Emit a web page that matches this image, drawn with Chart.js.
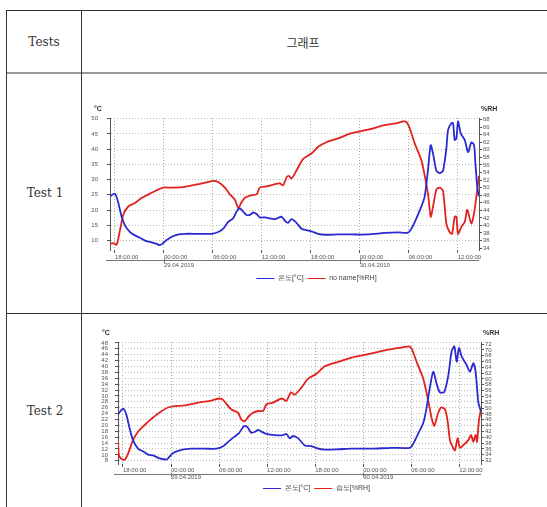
<!DOCTYPE html>
<html>
<head>
<meta charset="utf-8">
<script src="https://cdn.jsdelivr.net/npm/chart.js@4.4.1/dist/chart.umd.min.js"></script>
<style>
  body { margin: 0; width: 547px; height: 507px; background: #fff; overflow: hidden; position: relative; }
  .rule { position: absolute; background: #333; }
  .cell { position: absolute; font-family: 'DejaVu Serif', serif; font-size: 12px; color: #333;
          transform: translate(-50%, -50%); white-space: nowrap; }
  .box { position: absolute; }
</style>
</head>
<body>
<div class="rule" style="left:6px;top:10px;width:541px;height:1px"></div>
<div class="rule" style="left:6px;top:72px;width:541px;height:2px;background:#999"></div>
<div class="rule" style="left:6px;top:313px;width:541px;height:1px"></div>
<div class="rule" style="left:6px;top:10px;width:1px;height:497px"></div>
<div class="rule" style="left:81px;top:10px;width:1px;height:497px"></div>
<div class="cell" style="left:44px;top:42px">Tests</div>
<div class="cell" style="left:303px;top:42px;font-family:'Noto Sans CJK KR'">그래프</div>
<div class="cell" style="left:45px;top:193px">Test 1</div>
<div class="cell" style="left:45px;top:411px">Test 2</div>
<div class="box" style="left:86px;top:95px;width:461px;height:205px"><canvas id="c1"></canvas></div>
<div class="box" style="left:86px;top:325px;width:461px;height:182px"><canvas id="c2"></canvas></div>
<script>
// hours counted from 28.04.2019 00:00
const timeTicks = [18, 24, 30, 36, 42, 48, 54, 60];
const dayLabels = { 24: '29.04.2019', 48: '30.04.2019' };
const tempLabel = '온도[°C]';
const rhLabel1 = 'no name[%RH]';
const rhLabel2 = '습도[%RH]';

// Test 1
const t1TempHours = [17.39,18.00,18.41,18.82,19.22,19.84,20.45,21.06,21.67,22.49,23.10,23.51,23.80,24.33,25.35,26.57,28.20,29.84,30.65,31.27,31.88,32.49,32.90,33.31,33.71,34.12,34.53,34.94,35.35,35.76,36.37,36.98,37.59,38.41,38.82,39.22,39.63,40.24,40.86,41.47,42.08,42.90,43.71,45.35,46.98,49.02,51.06,52.69,53.92,54.33,54.94,55.55,55.96,56.37,56.69,56.98,57.39,57.80,58.20,58.61,58.82,59.22,59.43,59.63,59.84,60.04,60.37,60.86,61.27,61.67,62.00,62.16,62.41,62.61];
const t1Temp = [24.5,25.4,22.3,17.8,15,12.8,11.7,10.9,10,9.4,8.9,8.5,8.9,10.2,11.7,12.2,12.2,12.2,12.8,13.9,16.1,17.3,19.5,20.6,19.5,18.4,18.4,19.2,18.7,17.6,17.6,17.3,17,17.8,16.5,15.8,17,15.8,13.9,13.4,13,12.2,11.9,12,12,12,12.5,12.7,12.6,13.9,17.3,21.2,24.5,33.5,41.3,38.5,32.9,32.1,32.9,40.2,46.3,48.5,48.5,43,43.5,49.1,45.2,43,39,42.2,41.3,35.7,27.3,24.5];
const t1RhHours = [17.39,17.80,18.20,18.61,19.02,19.63,20.45,21.27,21.67,22.29,23.10,23.92,24.94,26.57,28.20,29.43,30.04,30.65,31.47,32.08,32.69,33.10,33.51,33.92,34.53,35.35,35.76,36.57,37.59,38.20,38.61,39.02,39.31,39.63,40.24,41.06,42.08,42.90,43.92,45.35,46.98,49.02,51.06,52.69,53.31,53.71,54.12,54.73,55.55,55.96,56.37,56.69,56.98,57.39,57.80,58.20,58.61,59.02,59.31,59.63,59.84,60.04,60.45,60.86,61.18,61.67,62.00,62.29,62.61];
const t1Rh = [35.1,35.3,34.9,38.7,42.8,45,45.9,47.3,47.7,48.4,49.3,50,50,50.2,50.9,51.5,51.8,51.5,50,48.2,46.8,44.6,46.1,47.3,47.9,48.2,50,50.3,50.9,51.1,50.6,52.7,53.1,52.4,54.5,57.6,59,60.8,62,63,64.4,65.3,66.5,67.1,67.5,67.4,65.7,61.7,57.2,53.1,48.2,42.3,45,49.5,50,49.1,40.5,38.2,37.8,42.3,42.3,37.8,39.6,40.9,44.1,40.5,43.2,47.7,53.1];

// Test 2
const t2TempHours = [17.38,17.79,18.08,18.42,18.83,19.25,19.88,20.50,21.13,21.75,22.58,23.42,23.63,24.25,25.29,26.54,28.21,29.67,30.50,31.13,31.88,32.46,33.13,33.54,34.04,34.54,34.88,35.29,35.92,36.96,38.00,38.42,38.83,39.25,39.88,40.71,41.54,42.38,43.21,44.88,46.54,49.04,51.54,53.83,54.25,54.88,55.50,55.92,56.33,56.75,57.17,57.58,58.13,58.63,59.04,59.38,59.67,59.96,60.29,60.92,61.33,61.75,62.04,62.38,62.71];
const t2Temp = [23.7,25.2,25.6,23.7,19,15,12.1,11.2,10.1,9.8,8.8,8.4,8.8,10.6,11.7,12.1,12.1,12.1,12.9,14.4,16.1,17.3,19.8,19.4,17.5,17.9,18.5,17.9,17.1,16.7,16.7,17.1,15.6,16.4,15.6,13.2,13,12.1,11.8,11.9,12.1,12.1,12.4,12.4,13.8,17.3,20.8,26,32.9,38.2,34.1,31.2,31.4,37,45.1,46.8,41.6,46.3,43.4,40.5,38.2,41.1,38.2,27.7,24.8];
const t2RhHours = [17.38,17.50,17.79,18.21,18.63,19.25,19.88,20.71,21.33,21.96,22.79,23.63,24.46,25.71,27.38,29.04,30.08,30.50,31.54,32.38,32.79,33.21,33.71,34.25,34.88,35.50,35.92,36.75,37.79,38.42,38.96,39.46,40.29,41.13,42.17,43.21,44.88,46.54,48.63,50.71,52.79,53.71,54.04,54.67,55.50,56.13,56.54,56.88,57.29,57.71,58.21,58.54,58.83,59.17,59.46,59.79,60.08,60.50,61.13,61.46,61.75,62.04,62.21,62.46,62.71];
const t2Rh = [38.4,33.8,32.6,32.3,34.3,39,41.9,44.2,45.8,47.2,48.9,50.2,50.7,50.9,51.9,52.6,53.3,52.8,49.5,48.4,46,45.5,47.2,48.4,49,49,51.3,51.9,53.3,52.5,55.4,54.6,57.1,60.1,61.8,64.4,65.9,67.3,68.5,69.8,70.8,71.2,70.4,65.9,60.1,52.5,46.6,43.9,47.8,50.2,49.6,45.5,39,36.7,35.5,39.6,36.4,37.3,39,40.8,38.4,40.8,38.4,46,49.6];

Chart.defaults.font.family = "'Liberation Sans', sans-serif";
Chart.defaults.color = '#555';

const toPoints = (xs, ys) => xs.map((x, i) => ({ x: x, y: ys[i] }));

function timeLabel(h) {
  const hh = String(h % 24).padStart(2, '0') + ':00:00';
  return dayLabels[h] ? [hh, dayLabels[h]] : hh;
}

const axisExtras = {
  id: 'axisExtras',
  afterDraw(chart) {
    const { ctx, chartArea, scales } = chart;
    ctx.save();
    ctx.font = "bold 7px 'Liberation Sans'";
    ctx.fillStyle = '#333';
    ctx.textBaseline = 'bottom';
    ctx.textAlign = 'left';
    ctx.fillText('°C', chartArea.left - 16, chartArea.top - 5);
    ctx.fillText('%RH', scales.y1.left + 2, chartArea.top - 5);
    // line under the time labels with day marks
    const yLine = Math.round(chartArea.bottom + 10) + 0.5;
    ctx.strokeStyle = '#777';
    ctx.lineWidth = 1;
    ctx.beginPath();
    ctx.moveTo(chartArea.left - 4, yLine);
    ctx.lineTo(chartArea.right, yLine);
    Object.keys(dayLabels).forEach(d => {
      const px = Math.round(scales.x.getPixelForValue(+d)) + 0.5;
      ctx.moveTo(px, yLine - 2);
      ctx.lineTo(px, yLine + 3);
    });
    ctx.stroke();
    ctx.restore();
  }
};

function makeChart(id, o) {
  new Chart(document.getElementById(id), {
    type: 'line',
    data: {
      datasets: [
        { label: tempLabel, data: toPoints(o.tempHours, o.temp), yAxisID: 'y',
          borderColor: '#2a2ad0', backgroundColor: '#2a2ad0' },
        { label: o.rhLabel, data: toPoints(o.rhHours, o.rh), yAxisID: 'y1',
          borderColor: '#e3221e', backgroundColor: '#e3221e' }
      ]
    },
    options: {
      responsive: true,
      maintainAspectRatio: false,
      animation: false,
      elements: {
        line: { borderWidth: 1.8, tension: 0.25 },
        point: { radius: 0 }
      },
      layout: { padding: { top: o.padTop, bottom: o.padBottom } },
      plugins: {
        tooltip: { enabled: false },
        legend: {
          position: 'bottom',
          labels: { usePointStyle: true, pointStyle: 'line', pointStyleWidth: 18,
                    padding: 4, font: { size: 7 }, color: '#444' }
        }
      },
      scales: {
        x: {
          type: 'linear',
          min: o.xMin, max: o.xMax,
          afterBuildTicks: s => { s.ticks = timeTicks.map(v => ({ value: v })); },
          afterFit: s => { s.height = o.xHeight; },
          ticks: { align: 'start', padding: 0, autoSkip: false, maxRotation: 0,
                   font: { size: 6, lineHeight: o.xLineHeight },
                   callback: v => timeLabel(v) },
          grid: { color: '#aaa', tickColor: '#555', tickLength: 3 },
          border: { display: false, dash: [1, 2] }
        },
        y: {
          position: 'left',
          min: o.yMin, max: o.yMax,
          afterFit: s => { s.width = o.leftWidth; },
          ticks: { stepSize: o.yStep, includeBounds: false, autoSkip: false,
                   padding: o.leftPad, font: { size: 6 } },
          grid: { color: '#bbb', tickColor: '#555', tickLength: 3 },
          border: { display: true, color: '#555', dash: [1, 2] }
        },
        y1: {
          position: 'right',
          min: o.rMin, max: o.rMax,
          afterFit: s => { s.width = o.rightWidth; },
          ticks: { stepSize: 2, includeBounds: false, autoSkip: false, padding: 1,
                   font: { size: 6 } },
          grid: { drawOnChartArea: false, tickColor: '#555', tickLength: 3 },
          border: { display: true, color: '#555' }
        }
      }
    },
    plugins: [axisExtras]
  });
}

makeChart('c1', {
  tempHours: t1TempHours, temp: t1Temp, rhHours: t1RhHours, rh: t1Rh, rhLabel: rhLabel1,
  xMin: 17.39, xMax: 62.61, yMin: 6.9, yMax: 50.2, yStep: 5, rMin: 33.5, rMax: 68.4,
  padTop: 23, padBottom: 8, xHeight: 21, xLineHeight: 1.35, leftWidth: 24, rightWidth: 68, leftPad: 9
});

makeChart('c2', {
  tempHours: t2TempHours, temp: t2Temp, rhHours: t2RhHours, rh: t2Rh, rhLabel: rhLabel2,
  xMin: 17.38, xMax: 62.71, yMin: 6.9, yMax: 48.3, yStep: 2, rMin: 30.8, rMax: 72.7,
  padTop: 17, padBottom: 5, xHeight: 17, xLineHeight: 1.2, leftWidth: 32, rightWidth: 66, leftPad: 7
});
</script>
</body>
</html>
